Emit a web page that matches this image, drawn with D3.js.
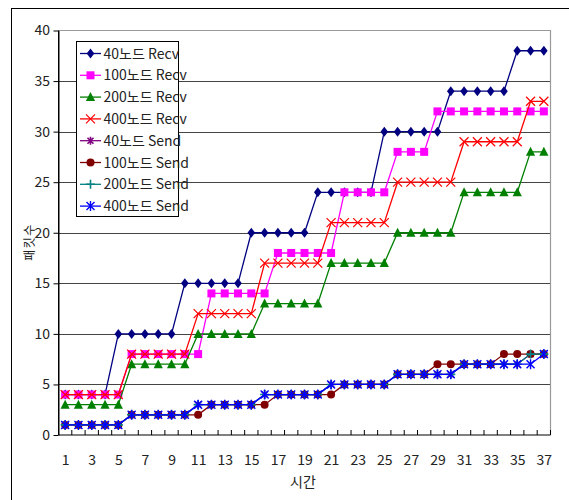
<!DOCTYPE html>
<html><head><meta charset="utf-8">
<script src="https://cdn.jsdelivr.net/npm/d3@7"></script>
<style>
html,body{margin:0;padding:0;background:#fff;}
svg{display:block;}
text{font-family:"Liberation Sans Narrow","Arial Narrow","Noto Sans CJK KR",sans-serif;fill:#222;}
</style></head><body>
<svg id="c" width="569" height="500"></svg>
<script>
const times = d3.range(1, 38);
const xTickLabels = d3.range(1, 38, 2);
const yTicks = [0, 5, 10, 15, 20, 25, 30, 35, 40];
const seriesNames = ["40노드 Recv","100노드 Recv","200노드 Recv","400노드 Recv","40노드 Send","100노드 Send","200노드 Send","400노드 Send"];
const recv40  = [4,4,4,4,10,10,10,10,10,15,15,15,15,15,20,20,20,20,20,24,24,24,24,24,30,30,30,30,30,34,34,34,34,34,38,38,38];
const recv100 = [4,4,4,4,4,8,8,8,8,8,8,14,14,14,14,14,18,18,18,18,18,24,24,24,24,28,28,28,32,32,32,32,32,32,32,32,32];
const recv200 = [3,3,3,3,3,7,7,7,7,7,10,10,10,10,10,13,13,13,13,13,17,17,17,17,17,20,20,20,20,20,24,24,24,24,24,28,28];
const recv400 = [4,4,4,4,4,8,8,8,8,8,12,12,12,12,12,17,17,17,17,17,21,21,21,21,21,25,25,25,25,25,29,29,29,29,29,33,33];
const send40  = [1,1,1,1,1,2,2,2,2,2,3,3,3,3,3,4,4,4,4,4,5,5,5,5,5,6,6,6,6,6,7,7,7,7,7,8,8];
const send100 = [1,1,1,1,1,2,2,2,2,2,2,3,3,3,3,3,4,4,4,4,4,5,5,5,5,6,6,6,7,7,7,7,7,8,8,8,8];
const send200 = [1,1,1,1,1,2,2,2,2,2,3,3,3,3,3,4,4,4,4,4,5,5,5,5,5,6,6,6,6,6,7,7,7,7,7,8,8];
const send400 = [1,1,1,1,1,2,2,2,2,2,3,3,3,3,3,4,4,4,4,4,5,5,5,5,5,6,6,6,6,6,7,7,7,7,7,7,8];
const seriesValues = [recv40, recv100, recv200, recv400, send40, send100, send200, send400];
const colors = ["#000080","#ff00ff","#008000","#ff0000","#800080","#800000","#008080","#0000ff"];
const markers = ["diamond","square","triangle","x","star","circle","plus","asterisk"];

const svg = d3.select("#c");
const L = 58.5, R = 550.5, T = 30.5, B = 435;
const x = d3.scalePoint().domain(times).range([L, R]).padding(0.5);
const band = (R - L) / times.length;
const y = d3.scaleLinear().domain([0, 40]).range([B, T]);

// outer chart border (cropped)
svg.append("rect").attr("x", 11.5).attr("y", 8.5).attr("width", 620).attr("height", 600)
  .attr("fill", "none").attr("stroke", "#000").attr("stroke-width", 1);

// gridlines
svg.append("g").selectAll("line").data(yTicks.filter(v => v > 0 && v < 40)).join("line")
  .attr("x1", L).attr("x2", R).attr("y1", d => Math.round(y(d)) + 0.5).attr("y2", d => Math.round(y(d)) + 0.5)
  .attr("stroke", "#444").attr("stroke-width", 1);
// top & right border grey
svg.append("path").attr("d", `M${L},${T}H${R}V${B}`).attr("fill", "none").attr("stroke", "#999").attr("stroke-width", 1.2);

// y axis
const ya = svg.append("g").attr("transform", `translate(${L},0)`)
  .call(d3.axisLeft(y).tickValues(yTicks).tickSize(5).tickPadding(3.5).tickSizeOuter(0));
ya.select(".domain").attr("stroke", "#000");
ya.selectAll(".tick line").attr("stroke", "#000");
ya.selectAll("text").attr("font-size", 14).attr("fill", "#222")
  .attr("font-family", '"Liberation Sans Narrow","Arial Narrow",sans-serif');

// x axis
const xa = svg.append("g").attr("transform", `translate(0,${B})`)
  .call(d3.axisBottom(x).tickValues(xTickLabels).tickSize(0).tickPadding(20).tickSizeOuter(0));
xa.select(".domain").remove();
xa.selectAll("text").attr("font-size", 14).attr("fill", "#222")
  .attr("font-family", '"Liberation Sans Narrow","Arial Narrow",sans-serif');
svg.append("line").attr("x1", L).attr("x2", R).attr("y1", B).attr("y2", B).attr("stroke", "#000");
svg.append("g").selectAll("line").data(d3.range(times.length + 1)).join("line")
  .attr("x1", i => L + i * band).attr("x2", i => L + i * band)
  .attr("y1", B).attr("y2", B - 5).attr("stroke", "#000");
svg.append("line").attr("x1", L).attr("x2", L).attr("y1", T).attr("y2", B).attr("stroke", "#000");

// axis titles
svg.append("text").attr("x", 303).attr("y", 487).attr("text-anchor", "middle")
  .attr("font-size", 14).attr("font-family", '"Noto Sans CJK KR",sans-serif').text("시간");
svg.append("text").attr("transform", "translate(34,242) rotate(-90)").attr("text-anchor", "middle")
  .attr("font-size", 12).attr("letter-spacing", 1.5).attr("fill", "#333")
  .attr("font-family", '"Noto Sans CJK KR",sans-serif').text("패킷수");

function drawMarker(g, type, color) {
  switch (type) {
    case "diamond": g.append("path").attr("d", "M0,-5L3.8,0L0,5L-3.8,0Z").attr("fill", color); break;
    case "square": g.append("rect").attr("x", -4).attr("y", -4).attr("width", 8).attr("height", 8).attr("fill", color); break;
    case "triangle": g.append("path").attr("d", "M0,-5L4.6,4L-4.6,4Z").attr("fill", color); break;
    case "x": g.append("path").attr("d", "M-4.5,-4.5L4.5,4.5M-4.5,4.5L4.5,-4.5").attr("stroke", color).attr("stroke-width", 1.2); break;
    case "star": g.append("path").attr("d", "M-3,-3L3,3M-3,3L3,-3M0,-4V4").attr("stroke", color).attr("stroke-width", 1.6); break;
    case "circle": g.append("circle").attr("r", 4).attr("fill", color); break;
    case "plus": g.append("path").attr("d", "M-4.5,0H4.5M0,-4.5V4.5").attr("stroke", color).attr("stroke-width", 1.6); break;
    case "asterisk": g.append("path").attr("d", "M-4,-4L4,4M-4,4L4,-4M0,-5V5").attr("stroke", color).attr("stroke-width", 1.4); break;
  }
}

const line = d3.line().x((d, i) => x(times[i])).y(d => y(d));
const plot = svg.append("g");
seriesValues.forEach((vals, s) => {
  const g = plot.append("g");
  g.append("path").attr("d", line(vals)).attr("fill", "none").attr("stroke", colors[s]).attr("stroke-width", 1.3);
  vals.forEach((v, i) => {
    drawMarker(g.append("g").attr("transform", `translate(${x(times[i])},${y(v)})`), markers[s], colors[s]);
  });
});

// legend
const lg = svg.append("g");
lg.append("rect").attr("x", 76.5).attr("y", 41.5).attr("width", 102).attr("height", 175)
  .attr("fill", "#fff").attr("stroke", "#000").attr("stroke-width", 1);
seriesNames.forEach((name, s) => {
  const cy = 53.5 + s * 21.8;
  lg.append("line").attr("x1", 80).attr("x2", 101).attr("y1", cy).attr("y2", cy).attr("stroke", colors[s]).attr("stroke-width", 1.3);
  drawMarker(lg.append("g").attr("transform", `translate(90.5,${cy})`), markers[s], colors[s]);
  lg.append("text").attr("x", 103.5).attr("y", cy + 5).attr("font-size", 14).attr("fill", "#333").text(name);
});
</script>
</body></html>
